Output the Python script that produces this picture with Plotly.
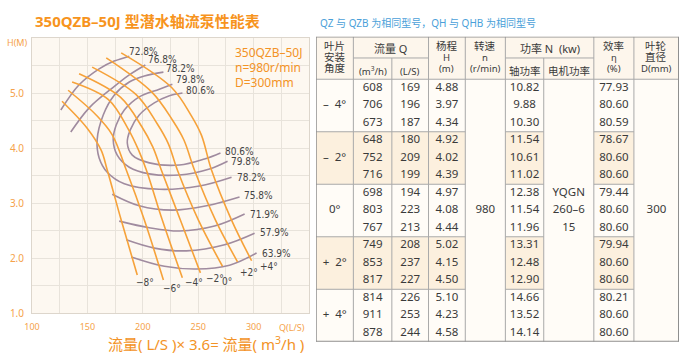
import plotly.graph_objects as go

# ---------------- chart data (Q in L/s, H in m) ----------------
angle_names = ["−8°", "−6°", "−4°", "−2°", "0°", "+2°", "+4°"]
angle_q = [
    [127.1, 149.8, 162.4, 167.9, 180.5, 195.0],
    [132.6, 157.9, 172.4, 185.1, 201.4, 218.6],
    [136.2, 169.0, 187.0, 196.0, 203.2, 217.6, 235.7],
    [142.5, 180.0, 199.0, 209.0, 216.7, 233.9, 252.0],
    [154.3, 194.0, 213.0, 223.0, 231.2, 250.2, 271.9],
    [167.0, 208.0, 227.0, 237.0, 246.6, 265.6, 285.5],
    [180.5, 226.0, 244.0, 253.0, 262.0, 280.1, 298.2],
]
angle_h = [
    [4.85, 4.36, 3.96, 3.60, 2.69, 1.69],
    [5.05, 4.60, 4.24, 3.60, 2.69, 1.60],
    [5.20, 4.88, 4.34, 3.97, 3.60, 2.69, 1.64],
    [5.35, 4.92, 4.39, 4.02, 3.60, 2.69, 1.73],
    [5.47, 4.97, 4.44, 4.08, 3.60, 2.69, 1.85],
    [5.64, 5.02, 4.50, 4.15, 3.60, 2.69, 1.93],
    [5.73, 5.10, 4.58, 4.23, 3.60, 2.69, 1.95],
]
angle_label_q = [192.3, 216.7, 236.7, 254.8, 270.1, 285.5, 303.6]
angle_label_h = [1.56, 1.45, 1.55, 1.62, 1.58, 1.73, 1.85]

eff_names = ["72.8%", "76.8%", "78.2%", "79.8%", "80.6%", "75.8%", "71.9%", "57.9%", "63.9%"]
eff_q = [
    [126.0, 142.5, 160.6, 174.2, 187.8],
    [135.0, 151.6, 172.4, 187.8, 202.3],
    [218.6, 201.4, 187.8, 174.2, 164.3, 158.8, 160.6, 167.9, 183.3, 214.9, 251.1, 280.1],
    [226.7, 214.9, 196.8, 183.3, 176.0, 173.3, 176.9, 187.8, 205.9, 233.0, 260.2, 276.5],
    [235.8, 224.0, 210.4, 196.8, 188.7, 186.0, 190.5, 205.9, 233.0, 255.7, 270.1],
    [172.4, 196.8, 226.7, 257.5, 287.3],
    [178.7, 205.9, 233.0, 264.7, 291.9],
    [185.1, 210.4, 239.4, 273.8, 300.9],
    [189.6, 219.5, 248.4, 278.3, 302.7],
]
eff_h = [
    [4.69, 5.15, 5.44, 5.58, 5.67],
    [4.29, 4.73, 5.09, 5.33, 5.51],
    [5.38, 5.31, 5.20, 4.96, 4.60, 4.15, 3.82, 3.56, 3.35, 3.25, 3.31, 3.47],
    [5.16, 5.07, 4.93, 4.69, 4.42, 4.15, 3.87, 3.65, 3.53, 3.51, 3.62, 3.76],
    [5.00, 4.95, 4.82, 4.60, 4.33, 4.09, 3.87, 3.73, 3.69, 3.80, 3.91],
    [3.16, 2.95, 2.87, 2.95, 3.11],
    [2.67, 2.55, 2.49, 2.58, 2.80],
    [2.33, 2.18, 2.13, 2.24, 2.45],
    [2.02, 1.85, 1.80, 1.87, 2.09],
]
eff_label_text = ["72.8%", "76.8%", "78.2%", "79.8%", "80.6%", "80.6%", "79.8%",
                  "78.2%", "75.8%", "71.9%", "57.9%", "63.9%"]
eff_label_q = [186.0, 203.2, 219.5, 228.5, 237.6, 272.0, 277.4, 282.8, 289.1, 294.6, 303.6, 305.4]
eff_label_h = [5.76, 5.60, 5.44, 5.24, 5.04, 3.93, 3.76, 3.47, 3.13, 2.80, 2.47, 2.09]

x_tickvals = [100, 125, 150, 175, 200, 225, 250, 275, 300, 325, 350]
x_ticktext = ["100", "", "150", "", "200", "", "250", "", "300", "", ""]
y_tickvals = [1.0, 1.5, 2.0, 2.5, 3.0, 3.5, 4.0, 4.5, 5.0, 5.5, 6.0]
y_ticktext = ["1.0", "", "2.0", "", "3.0", "", "4.0", "", "5.0", "", ""]

model_lines = ["350QZB–50J", "n=980r/min", "D=300mm"]

# ---------------- table data ----------------
angles = ["–  4°", "–  2°", "0°", "+  2°", "+  4°"]
q_m3h = ["608", "706", "673", "648", "752", "716", "698", "803", "767",
         "749", "853", "817", "814", "911", "878"]
q_ls = ["169", "196", "187", "180", "209", "199", "194", "223", "213",
        "208", "237", "227", "226", "253", "244"]
head = ["4.88", "3.97", "4.34", "4.92", "4.02", "4.39", "4.97", "4.08", "4.44",
        "5.02", "4.15", "4.50", "5.10", "4.23", "4.58"]
shaft_power = ["10.82", "9.88", "10.30", "11.54", "10.61", "11.02", "12.38", "11.54", "11.96",
               "13.31", "12.48", "12.90", "14.66", "13.52", "14.14"]
efficiency = ["77.93", "80.60", "80.59", "78.67", "80.60", "80.60", "79.44", "80.60", "80.60",
              "79.94", "80.60", "80.60", "80.21", "80.60", "80.60"]
speed = "980"
motor = ["YQGN", "260–6", "15"]
diameter = "300"

# ---------------- styling ----------------
FONT = "Noto Sans, Noto Sans CJK SC, sans-serif"
NARROW = "Liberation Sans Narrow, DejaVu Sans Condensed, Liberation Sans, sans-serif"
ORANGE = "#f6a23a"
ORANGE_TXT = "#f39326"
TICK_TXT = "#f5a24a"
PURPLE = "#a08b9f"
TXT = "#3a3a3a"

fig = go.Figure()

for name, q, h in zip(eff_names, eff_q, eff_h):
    fig.add_trace(go.Scatter(x=q, y=h, mode="lines", name=name, hoverinfo="skip",
                             line=dict(color=PURPLE, width=1.6, shape="spline", smoothing=1.0)))
for name, q, h in zip(angle_names, angle_q, angle_h):
    fig.add_trace(go.Scatter(x=q, y=h, mode="lines", name=name, hoverinfo="skip",
                             line=dict(color=ORANGE, width=1.6, shape="spline", smoothing=1.0)))

ann = []
for t, q, h in zip(eff_label_text, eff_label_q, eff_label_h):
    ann.append(dict(x=q, y=h, xref="x", yref="y", text=t, showarrow=False, xanchor="left",
                    yanchor="middle", font=dict(family=NARROW, size=10, color="#444")))
for t, q, h in zip(angle_names, angle_label_q, angle_label_h):
    ann.append(dict(x=q, y=h, xref="x", yref="y", text=t, showarrow=False, xanchor="left",
                    yanchor="middle", font=dict(family=NARROW, size=10, color="#444")))
for i, t in enumerate(model_lines):
    ann.append(dict(x=281.4, y=5.74 - 0.275 * i, xref="x", yref="y", text=t, showarrow=False,
                    xanchor="left", yanchor="middle", font=dict(family=FONT, size=12, color=ORANGE_TXT)))

W, H = 690.0, 359.0
def px(x): return x / W
def py(y): return 1 - y / H

ann.append(dict(x=px(33), y=py(21), xref="paper", yref="paper", text="<b>350QZB–50J 型潜水轴流泵性能表</b>",
                showarrow=False, xanchor="left", yanchor="middle",
                font=dict(family=FONT, size=15, color="#f7941d")))
ann.append(dict(x=px(318), y=py(23), xref="paper", yref="paper",
                text="QZ 与 QZB 为相同型号，QH 与 QHB 为相同型号",
                showarrow=False, xanchor="left", yanchor="middle",
                font=dict(family=FONT, size=10, color="#4a9fd9")))
ann.append(dict(x=px(17), y=py(42), xref="paper", yref="paper", text="H(M)", showarrow=False,
                xanchor="center", yanchor="middle", font=dict(family=FONT, size=9, color=TICK_TXT)))
ann.append(dict(x=px(292), y=py(327), xref="paper", yref="paper", text="Q(L/S)", showarrow=False,
                xanchor="center", yanchor="middle", font=dict(family=FONT, size=9, color=TICK_TXT)))
ann.append(dict(x=px(106), y=py(343), xref="paper", yref="paper",
                text="流量( L/S )× 3.6= 流量( m<sup>3</sup>/h )", showarrow=False,
                xanchor="left", yanchor="middle", font=dict(family=FONT, size=15, color=ORANGE_TXT)))

# ---------------- table geometry ----------------
col_w = [37.3, 38.4, 36.6, 36.7, 40.0, 38.3, 50.0, 40.0, 45.0]
edges = [0.0]
for w in col_w:
    edges.append(edges[-1] + w)
TW = edges[-1]
HH = 2.43          # header height in body-row units
NR = 15
TH = HH + NR
merged = {4, 6, 8}
cx = [(edges[i] + edges[i + 1]) / 2 for i in range(9)]

shapes = []
def rect(x0, x1, y0, y1, fill):
    shapes.append(dict(type="rect", xref="x2", yref="y2", x0=x0, x1=x1, y0=y0, y1=y1,
                       fillcolor=fill, line=dict(width=0), layer="below"))
def seg(x0, y0, x1, y1, color="#a9a9a9", width=1):
    shapes.append(dict(type="line", xref="x2", yref="y2", x0=x0, y0=y0, x1=x1, y1=y1,
                       line=dict(color=color, width=width)))

WHITE, BEIGE, HEAD = "#fffcf7", "#fcf0de", "#fdf6ec"
rect(0, TW, 0, HH, HEAD)
rect(0, TW, HH, TH, WHITE)
for g in range(5):
    if g % 2 == 1:
        for c in range(9):
            if c not in merged:
                rect(edges[c], edges[c + 1], HH + 3 * g, HH + 3 * g + 3, BEIGE)

for i in range(1, 9):
    y0 = HH / 2 if i in (2, 6) else 0
    seg(edges[i], y0, edges[i], TH)
seg(0, HH, TW, HH)
seg(edges[1], HH / 2, edges[3], HH / 2)
seg(edges[5], HH / 2, edges[7], HH / 2)
for g in range(1, 5):
    y = HH + 3 * g
    for c in range(9):
        if c not in merged:
            seg(edges[c], y, edges[c + 1], y)
seg(0, 0, TW, 0, "#8f8f8f", 1.5)
seg(0, 0, 0, TH, "#8f8f8f", 1.5)
seg(TW, 0, TW, TH, "#8f8f8f", 2)
seg(0, TH, TW, TH, "#8f8f8f", 2)

def hdr(x, y, t, size=10.5):
    ann.append(dict(x=x, y=y, xref="x2", yref="y2", text=t, showarrow=False, xanchor="center",
                    yanchor="middle", font=dict(family=FONT, size=size, color=TXT)))
hy = [0.53, 1.16, 1.79]
for c, lines in [(0, ["叶片", "安装", "角度"]), (3, ["杨程", "H", "(m)"]),
                 (4, ["转速", "n", "(r/min)"]), (7, ["效率", "η", "(%)"]),
                 (8, ["叶轮", "直径", "D(mm)"])]:
    for k, t in enumerate(lines):
        hdr(cx[c], hy[k], t, 10.5 if (k == 0 or c in (0, 8)) and t != "D(mm)" else 9.5)
hdr((edges[1] + edges[3]) / 2, 0.70, "流量 Q", 11)
hdr((edges[5] + edges[7]) / 2, 0.70, "功率 N  (kw)", 11)
hdr(cx[1], 1.96, "(m<sup>3</sup>/h)", 9.5)
hdr(cx[2], 1.96, "(L/S)", 9.5)
hdr(cx[5], 1.96, "轴功率", 10.5)
hdr(cx[6], 1.96, "电机功率", 10.5)

bx, by, bt = [], [], []
for r in range(NR):
    yy = HH + r + 0.5
    for c, col in [(1, q_m3h), (2, q_ls), (3, head), (5, shaft_power), (7, efficiency)]:
        bx.append(cx[c]); by.append(yy); bt.append(col[r])
for g, a in enumerate(angles):
    bx.append(cx[0]); by.append(HH + 3 * g + 1.5); bt.append(a)
mid = HH + 7.5
bx += [cx[4], cx[8]]; by += [mid, mid]; bt += [speed, diameter]
for k, t in enumerate(motor):
    bx.append(cx[6]); by.append(mid - 1 + k); bt.append(t)
fig.add_trace(go.Scatter(x=bx, y=by, text=bt, mode="text", xaxis="x2", yaxis="y2",
                         textposition="middle center", hoverinfo="skip",
                         textfont=dict(family=FONT, size=11.5, color=TXT)))

fig.update_layout(
    width=690, height=359, margin=dict(l=0, r=0, t=0, b=0, pad=0, autoexpand=False),
    paper_bgcolor="white", plot_bgcolor="#fdf8f1", showlegend=False,
    xaxis=dict(domain=[px(32), px(309)], range=[100, 350], tickvals=x_tickvals, ticktext=x_ticktext,
               showgrid=True, gridcolor="#e8e3db", gridwidth=1, zeroline=False, showline=True,
               linecolor="#ddd6cc", mirror=True, ticks="", fixedrange=True, automargin=False,
               ticklabelstandoff=5, tickfont=dict(family=FONT, size=9, color=TICK_TXT)),
    yaxis=dict(domain=[py(313), py(38)], range=[1, 6], tickvals=y_tickvals, ticktext=y_ticktext,
               showgrid=True, gridcolor="#e8e3db", gridwidth=1, zeroline=False, showline=True,
               linecolor="#ddd6cc", mirror=True, ticks="", fixedrange=True, automargin=False,
               ticklabelstandoff=5, tickfont=dict(family=FONT, size=10, color=TICK_TXT)),
    xaxis2=dict(domain=[px(316), px(679)], range=[0, TW], visible=False, anchor="y2",
                fixedrange=True, automargin=False),
    yaxis2=dict(domain=[py(341.8), py(36.7)], range=[TH, 0], visible=False, anchor="x2",
                fixedrange=True, automargin=False),
    shapes=shapes, annotations=ann,
)

fig.write_html("out.html", config={"displayModeBar": False},
               post_script="document.body.style.margin='0';document.body.style.overflow='hidden';")
